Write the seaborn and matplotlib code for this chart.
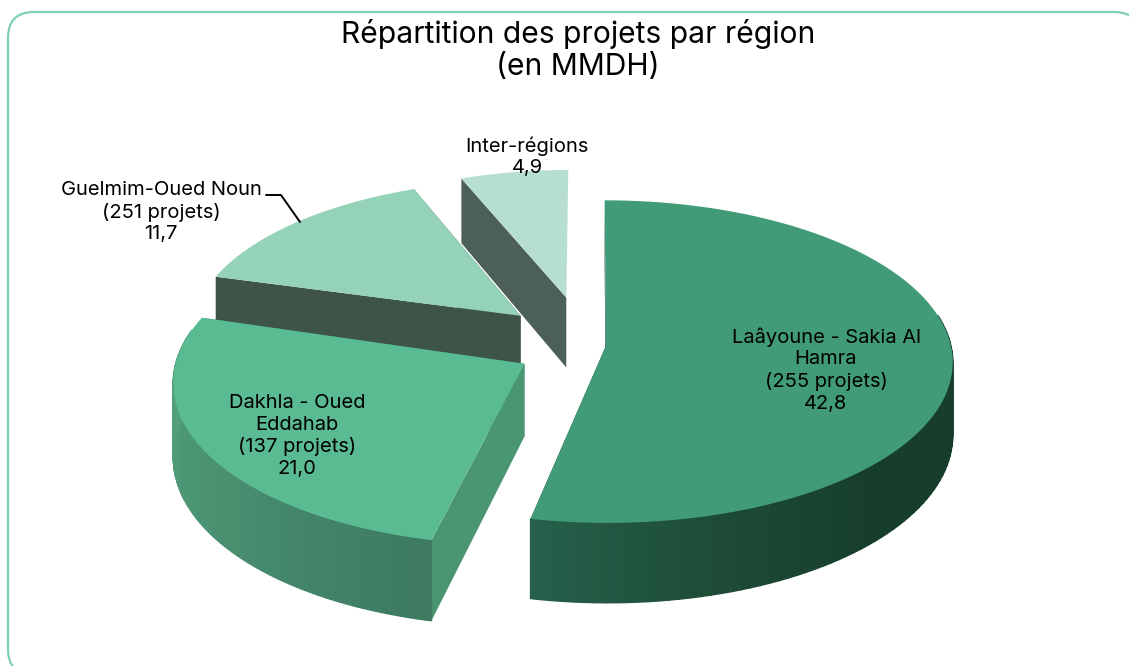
import numpy as np
import matplotlib
matplotlib.use('Agg')
import matplotlib.pyplot as plt
import seaborn as sns
from matplotlib.collections import PolyCollection
from matplotlib.patches import FancyBboxPatch

# Data
regions = ['Laâyoune - Sakia Al\nHamra', 'Dakhla - Oued\nEddahab', 'Guelmim-Oued Noun', 'Inter-régions']
projects = [255, 137, 251, None]
values = [42.8, 21.0, 11.7, 4.9]

# Style per slice
top_colors = ['#409b76', '#5abb93', '#94d3b7', '#b7dfd0']
arc_colors = [['#173d2c', '#173d2c', '#173d2c', '#1d4b37', '#26604a'],
              ['#3d7a60', '#4a9272', '#55a480'],
              ['#3e5449', '#3e5449'],
              ['#4d5f59', '#4d5f59']]
side_colors = ['#173d2c', '#4a9673', '#3e5449', '#4d5f59']
explode = [0.043, 0.22, 0.275, 0.31]
explode_turn = np.radians([0, 0, 0, -2.6])
slice_turn = np.radians([0, 1.2, 0, 0])
radius = [0.985, 0.985, 0.95, 0.91]

# Pie geometry, in pixels
cx, cy = 591, 345
rx, ry = 350, 162
persp = 0.10
wall = 72


def project(X, Y, z=0.0):
    d = 1 + persp * Y
    return cx + rx * X / d, cy - ry * Y / d + z * wall / d


sns.set_theme(style='white')
plt.rcParams['font.family'] = ['Inter', 'DejaVu Sans']

fig = plt.figure(figsize=(11.29, 6.66), dpi=100)
ax = fig.add_axes([0, 0, 1, 1])
ax.set_xlim(0, 1129)
ax.set_ylim(666, 0)
ax.axis('off')

ax.add_patch(FancyBboxPatch((8, 12), 1132, 663, boxstyle='round,pad=0,rounding_size=26',
                            fc='white', ec='#7fd0b0', lw=1.6))

ends = np.cumsum(values) / np.sum(values) * 2 * np.pi
starts = np.r_[0, ends[:-1]]

# far slices first so the near ones cover them
for i in [3, 2, 1, 0]:
    mid = (starts[i] + ends[i]) / 2 + explode_turn[i]
    ox, oy = explode[i] * np.sin(mid), explode[i] * np.cos(mid)
    th = np.linspace(starts[i], ends[i], 120) + slice_turn[i]
    X, Y = ox + radius[i] * np.sin(th), oy + radius[i] * np.cos(th)

    # flat cut faces
    for a in [0, -1]:
        if i == 3 and a == -1:
            continue
        px, py = project(np.array([ox, X[a]]), np.array([oy, Y[a]]))
        qx, qy = project(np.array([ox, X[a]]), np.array([oy, Y[a]]), 1)
        ax.fill([px[0], px[1], qx[1], qx[0]], [py[0], py[1], qy[1], qy[0]],
                color=side_colors[i], lw=0)

    # outer wall, shaded with thin quads (only the part facing the viewer)
    tx, ty = project(X, Y)
    bx, by = project(X, Y, 1)
    front = np.where(np.cos(th[:-1]) < 0.2)[0]
    if len(front):
        pal = sns.blend_palette(arc_colors[i], n_colors=len(front))
        quads = [[(tx[k], ty[k]), (tx[k + 1], ty[k + 1]), (bx[k + 1], by[k + 1]), (bx[k], by[k])]
                 for k in front]
        ax.add_collection(PolyCollection(quads, facecolors=pal, edgecolors=pal, linewidths=1.0))

    # top face
    ax0, ay0 = project(ox, oy)
    ax.fill(np.r_[ax0, tx], np.r_[ay0, ty], color=top_colors[i], lw=0)

txt = dict(ha='center', va='center', color='black', fontsize=14.5, linespacing=1.25)
fmt = lambda v: f'{v:.1f}'.replace('.', ',')
ax.text(578, 34, 'Répartition des projets par région', ha='center', va='center', color='black', fontsize=21.6)
ax.text(578, 67, '(en MMDH)', ha='center', va='center', color='black', fontsize=21.6)
ax.text(826, 370, f'{regions[0]}\n({projects[0]} projets)\n{fmt(values[0])}', **txt)
ax.text(297, 436, f'{regions[1]}\n({projects[1]} projets)\n{fmt(values[1])}', **txt)
ax.text(161, 212, f'{regions[2]}\n({projects[2]} projets)\n{fmt(values[2])}', **txt)
ax.text(527, 157, f'{regions[3]}\n{fmt(values[3])}', **txt)

# leader line for the Guelmim label
ax.plot([266, 281, 300], [195, 195, 222], color='black', lw=1.4)

fig.savefig('out.png', dpi=100)
